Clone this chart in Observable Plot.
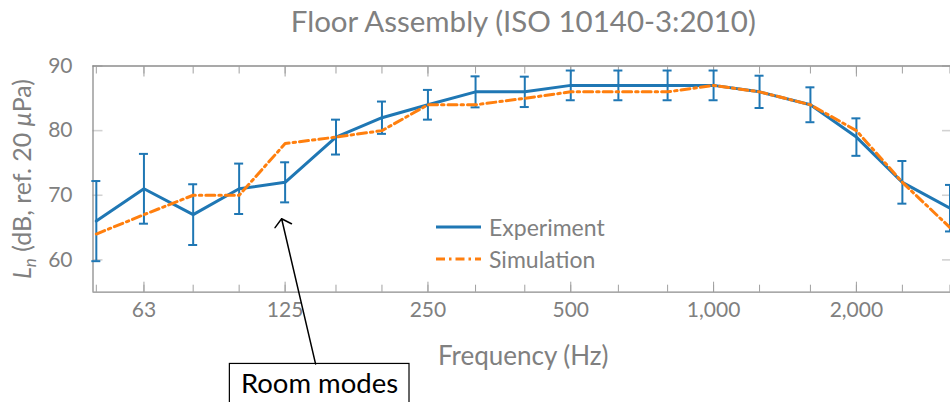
<!DOCTYPE html>
<html><head><meta charset="utf-8">
<script src="https://cdn.jsdelivr.net/npm/d3@7"></script>
<script src="https://cdn.jsdelivr.net/npm/@observablehq/plot@0.6"></script>
<style>
html,body{margin:0;padding:0;background:#fff;overflow:hidden;}
#wrap{position:relative;width:950px;height:402px;overflow:hidden;font-family:Lato,sans-serif;}
.legend{position:absolute;left:436px;top:210.5px;color:#808080;font-size:23px;}
.legend .row{display:flex;align-items:center;height:32.6px;white-space:nowrap;}
.legend svg{display:block;margin-right:8px;}
</style></head><body><div id="wrap"></div>
<script>
// ---- data ----
const freqs = [50,63,80,100,125,160,200,250,315,400,500,630,800,1000,1250,1600,2000,2500,3150];
const experiment = [66,71,67,71,72,79,82,84,86,86,87,87,87,87,86,84,79,72,68];
const experimentErr = [6.2,5.4,4.7,3.9,3.1,2.7,2.5,2.3,2.4,2.35,2.3,2.3,2.3,2.3,2.5,2.7,2.9,3.3,3.6];
const simulation = [64,67,70,70,78,79,80,84,84,85,86,86,86,87,86,84,80,72,65];
const xTickValues = [63,125,250,500,1000,2000];
const yTickValues = [60,70,80,90];
const xDomain = [49.2, 3204];
const yDomain = [55, 90];
const seriesNames = ["Experiment","Simulation"];
const titleText = "Floor Assembly (ISO 10140-3:2010)";
const xLabel = "Frequency (Hz)";
const yLabel = "Ln (dB, ref. 20 μPa)";
const noteText = ["Room modes"];
const noteX = [147.7], noteY = [40.7];
const noteBoxX = [95.6, 228.6], noteBoxY = [43.9, 36];
const arrowFrom = [144.9, 43.9], arrowTo = [122.9, 66.36];

const blue = "#1f77b4", orange = "#ff7f0e", gray = "#808080", axisGray = "#8c8c8c", tickGray = "#a0a0a0", yTickGray = "#d2d2d2";
const dash = "9,4,2.5,4";
const FONT = "Lato, sans-serif";

const data = freqs.map((f, i) => ({f, exp: experiment[i], err: experimentErr[i], sim: simulation[i]}));

const chart = Plot.plot({
  width: 950, height: 402,
  marginLeft: 92.5, marginRight: -3, marginTop: 65.5, marginBottom: 110.3,
  style: {fontFamily: FONT, color: gray, background: "white", maxWidth: "none", overflow: "hidden"},
  x: {type: "log", domain: xDomain},
  y: {domain: yDomain},
  marks: [
    // minor & major x ticks (inward, top & bottom)
    Plot.axisX(freqs, {anchor: "bottom", tickSize: -7, tickFormat: () => "", stroke: tickGray, label: null}),
    Plot.axisX(freqs, {anchor: "top", tickSize: -7, tickFormat: () => "", stroke: tickGray, label: null}),
    Plot.axisX(xTickValues, {anchor: "bottom", tickSize: -10, tickFormat: () => "", stroke: tickGray, label: null}),
    Plot.axisX(xTickValues, {anchor: "top", tickSize: -10, tickFormat: () => "", stroke: tickGray, label: null}),
    Plot.axisX(xTickValues, {anchor: "bottom", tickSize: 0, tickPadding: 10, tickFormat: d3.format(","), fontSize: 21, fill: gray, label: null}),
    // y ticks (inward, left & right)
    Plot.axisY(yTickValues, {anchor: "left", tickSize: -10, tickFormat: () => "", stroke: yTickGray, strokeWidth: 1.6, label: null}),
    Plot.axisY(yTickValues, {anchor: "right", tickSize: -12, tickFormat: () => "", stroke: yTickGray, strokeWidth: 1.6, label: null}),
    Plot.axisY(yTickValues, {anchor: "left", tickSize: 0, tickPadding: 20.5, fontSize: 21, fill: gray, label: null}),
    // frame lines
    Plot.ruleY([yDomain[0], yDomain[1]], {stroke: axisGray, strokeWidth: 1.3}),
    Plot.ruleX([xDomain[0]], {stroke: axisGray, strokeWidth: 1.3}),
    // error bars
    Plot.ruleX(data, {x: "f", y1: d => d.exp - d.err, y2: d => d.exp + d.err, stroke: blue, strokeWidth: 2}),
    Plot.ruleY(data, {x1: "f", x2: "f", y: d => d.exp + d.err, insetLeft: -4.5, insetRight: -4.5, stroke: blue, strokeWidth: 2}),
    Plot.ruleY(data, {x1: "f", x2: "f", y: d => d.exp - d.err, insetLeft: -4.5, insetRight: -4.5, stroke: blue, strokeWidth: 2}),
    // series
    Plot.line(data, {x: "f", y: "exp", stroke: blue, strokeWidth: 3}),
    Plot.line(data, {x: "f", y: "sim", stroke: orange, strokeWidth: 3, strokeDasharray: dash}),
    // titles
    Plot.text([titleText], {frameAnchor: "top", textAnchor: "middle", lineAnchor: "middle", dy: -43, fontSize: 29.5, fill: gray}),
    Plot.text([xLabel], {frameAnchor: "bottom", textAnchor: "middle", lineAnchor: "middle", dy: 64, fontSize: 26, fill: gray}),
    Plot.text([yLabel], {frameAnchor: "left", textAnchor: "middle", lineAnchor: "middle", rotate: -90, dx: -70, fontSize: 25, fill: gray}),
    // annotation
    Plot.rect([0], {x1: () => noteBoxX[0], x2: () => noteBoxX[1], y1: () => noteBoxY[0], y2: () => noteBoxY[1], fill: "white", stroke: "black", strokeWidth: 1.2}),
    Plot.text(noteText, {x: () => noteX[0], y: () => noteY[0], fontSize: 27.5, fill: "black"}),
    Plot.arrow([0], {x1: () => arrowFrom[0], y1: () => arrowFrom[1], x2: () => arrowTo[0], y2: () => arrowTo[1], stroke: "black", strokeWidth: 1.5, headLength: 11, headAngle: 100})
  ]
});

// rich y label (italic L with subscript n, italic mu)
const yt = [...chart.querySelectorAll("text")].find(e => e.textContent === yLabel);
if (yt) {
  while (yt.firstChild) yt.removeChild(yt.firstChild);
  const ns = "http://www.w3.org/2000/svg";
  const mk = (txt, style, size, dy) => {
    const s = document.createElementNS(ns, "tspan");
    s.textContent = txt;
    if (style) s.setAttribute("font-style", style);
    if (size) s.setAttribute("font-size", size);
    if (dy) s.setAttribute("dy", dy);
    yt.appendChild(s);
  };
  mk("L", "italic");
  mk("n", "italic", "17px", "5");
  mk(" (dB, ref. 20 ", null, null, "-5");
  mk("μ", "italic");
  mk("Pa)");
}

const wrap = document.getElementById("wrap");
wrap.appendChild(chart);

// legend
const legend = document.createElement("div");
legend.className = "legend";
const colors = [blue, orange];
const dashes = [null, dash];
seriesNames.forEach((name, i) => {
  const row = document.createElement("div");
  row.className = "row";
  row.innerHTML = `<svg width="45" height="8"><line x1="0" x2="45" y1="4" y2="4" stroke="${colors[i]}" stroke-width="3" ${dashes[i] ? `stroke-dasharray="${dashes[i]}"` : ""}/></svg><span>${name}</span>`;
  legend.appendChild(row);
});
wrap.appendChild(legend);
</script>
</body></html>
